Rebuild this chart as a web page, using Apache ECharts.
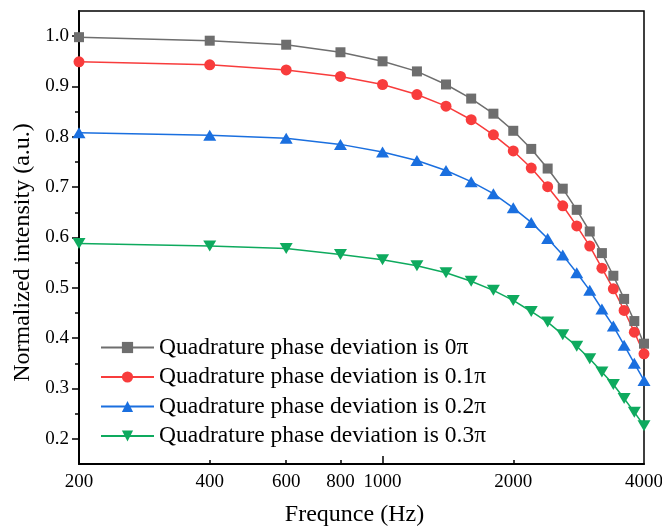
<!DOCTYPE html>
<html>
<head>
<meta charset="utf-8">
<script src="https://cdn.jsdelivr.net/npm/echarts@6/dist/echarts.min.js"></script>
<style>
html,body{margin:0;padding:0;background:#fff;}
#chart{width:662px;height:529px;}
</style>
</head>
<body>
<div id="chart"></div>
<script>
// ---- data ----
const freq = [200, 400, 600, 800, 1000, 1200, 1400, 1600, 1800, 2000, 2200, 2400, 2600, 2800, 3000, 3200, 3400, 3600, 3800, 4000];
const dev0 = [0.998, 0.991, 0.983, 0.968, 0.950, 0.930, 0.904, 0.876, 0.846, 0.812, 0.776, 0.737, 0.697, 0.655, 0.612, 0.569, 0.524, 0.478, 0.434, 0.389];
const dev1 = [0.949, 0.943, 0.933, 0.920, 0.904, 0.884, 0.861, 0.834, 0.804, 0.772, 0.738, 0.701, 0.663, 0.623, 0.583, 0.539, 0.498, 0.455, 0.412, 0.369];
const dev2 = [0.808, 0.803, 0.797, 0.785, 0.770, 0.753, 0.733, 0.711, 0.687, 0.659, 0.630, 0.598, 0.565, 0.530, 0.495, 0.458, 0.424, 0.386, 0.350, 0.316];
const dev3 = [0.588, 0.583, 0.578, 0.566, 0.556, 0.544, 0.530, 0.513, 0.495, 0.475, 0.453, 0.432, 0.407, 0.384, 0.359, 0.333, 0.308, 0.280, 0.253, 0.226];
const seriesNames = [
  'Quadrature phase deviation is 0\u03c0',
  'Quadrature phase deviation is 0.1\u03c0',
  'Quadrature phase deviation is 0.2\u03c0',
  'Quadrature phase deviation is 0.3\u03c0'
];
const xTickLabels = [200, 400, 600, 800, 1000, 2000, 4000];
const xMajorTicks = [1000];
const xMinorTicks = [400, 600, 800, 2000];
const xRange = [200, 4000];
const yTickLabels = [0.2, 0.3, 0.4, 0.5, 0.6, 0.7, 0.8, 0.9, 1.0];
const yMinorTicks = [0.25, 0.35, 0.45, 0.55, 0.65, 0.75, 0.85, 0.95];
const yRange = [0.15, 1.05];

// ---- styling ----
const FONT = 'Liberation Serif';
const colors = ['#6e6e6e', '#f83c3c', '#1a6fdf', '#0eaa5e'];
const symbols = ['rect', 'circle', 'triangle', 'triangle'];
const symbolSizes = [10, 11, [13, 11], [13, 11]];
const symbolRotates = [0, 0, 0, 180];

const lg = v => Math.log10(v);
const chart = echarts.init(document.getElementById('chart'), null, {renderer: 'canvas'});
const allData = [dev0, dev1, dev2, dev3];

const option = {
  animation: false,
  backgroundColor: '#fff',
  grid: {
    left: 79, right: 18, top: 11, bottom: 65,
    show: true, borderColor: '#000', borderWidth: 1.5,
    containLabel: false, outerBoundsMode: 'none'
  },
  legend: {
    orient: 'vertical',
    left: 100, top: 335.5,
    padding: 0,
    itemWidth: 53, itemHeight: 14, itemGap: 5.5,
    textStyle: {fontFamily: FONT, fontSize: 23.5, color: '#000'},
    data: seriesNames
  },
  xAxis: [{
    type: 'value',
    min: lg(xRange[0]), max: lg(xRange[1]),
    position: 'bottom',
    name: 'Frequnce (Hz)',
    nameLocation: 'middle',
    nameGap: 39,
    nameTextStyle: {fontFamily: FONT, fontSize: 24, color: '#000', padding: [0, 14, 0, 0]},
    axisLine: {show: true, onZero: false, lineStyle: {color: '#000', width: 2}},
    axisTick: {show: true, inside: true, length: 8, customValues: xMajorTicks.map(lg), lineStyle: {color: '#000', width: 1.5}},
    axisLabel: {
      show: true, margin: 9, customValues: xTickLabels.map(lg), hideOverlap: false,
      fontFamily: FONT, fontSize: 19, color: '#000',
      formatter: v => String(Math.round(Math.pow(10, v)))
    },
    splitLine: {show: false}
  }, {
    type: 'value',
    min: lg(xRange[0]), max: lg(xRange[1]),
    position: 'bottom',
    axisLine: {show: false},
    axisTick: {show: true, inside: true, length: 4, customValues: xMinorTicks.map(lg), lineStyle: {color: '#000', width: 1.5}},
    axisLabel: {show: false},
    splitLine: {show: false}
  }],
  yAxis: [{
    type: 'value',
    min: yRange[0], max: yRange[1],
    position: 'left',
    name: 'Normalized intensity (a.u.)',
    nameLocation: 'middle',
    nameGap: 42,
    nameTextStyle: {fontFamily: FONT, fontSize: 24, color: '#000', padding: [0, 30, 0, 0]},
    axisLine: {show: true, onZero: false, lineStyle: {color: '#000', width: 2}},
    axisTick: {show: true, inside: false, length: 7, customValues: yTickLabels, lineStyle: {color: '#000', width: 1.5}},
    axisLabel: {
      show: true, margin: 10, customValues: yTickLabels,
      fontFamily: FONT, fontSize: 19, color: '#000',
      formatter: v => v.toFixed(1)
    },
    splitLine: {show: false}
  }, {
    type: 'value',
    min: yRange[0], max: yRange[1],
    position: 'left',
    axisLine: {show: false},
    axisTick: {show: true, inside: false, length: 4, customValues: yMinorTicks, lineStyle: {color: '#000', width: 1.5}},
    axisLabel: {show: false},
    splitLine: {show: false}
  }],
  series: allData.map((arr, k) => ({
    name: seriesNames[k],
    type: 'line',
    xAxisIndex: 0, yAxisIndex: 0,
    data: freq.map((f, i) => [lg(f), arr[i]]),
    symbol: symbols[k],
    symbolSize: symbolSizes[k],
    symbolRotate: symbolRotates[k],
    showAllSymbol: true,
    clip: false,
    color: colors[k],
    itemStyle: {color: colors[k], opacity: 1},
    lineStyle: {color: colors[k], width: 1.5},
    emphasis: {disabled: true}
  }))
};
chart.setOption(option);
</script>
</body>
</html>
